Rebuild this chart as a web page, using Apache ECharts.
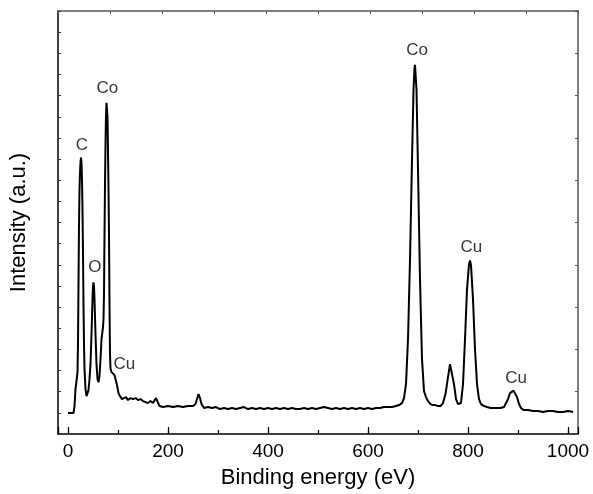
<!DOCTYPE html>
<html>
<head>
<meta charset="utf-8">
<script src="https://cdn.jsdelivr.net/npm/echarts@6/dist/echarts.min.js"></script>
<style>
html,body{margin:0;padding:0;background:#fff;}
#chart{width:593px;height:494px;}
</style>
</head>
<body>
<div id="chart"></div>
<script>
// Binding energy (eV)
const energy = [0,5,11,13,15,17,19,20,21,22,23,24,25,26,27,28,29,30,31,32,33,35,37,39,41,43,45,47,49,50,51,52,53,55,57,59,61,63,65,67,69,70,71,72,73,74,75,76,77,78,79,80,81,82,83,84,85,87,90,93,95,98,101,104,108,112,116,120,125,130,135,140,145,150,155,160,165,170,176,183,190,200,210,220,230,240,250,255,258,261,264,267,272,280,288,296,304,312,320,328,336,344,352,360,368,376,384,392,400,408,416,424,432,440,448,456,464,472,480,488,496,504,512,520,528,536,544,552,560,568,576,584,592,600,608,616,624,632,640,648,656,662,668,672,676,680,684,688,691,693,694,695,697,700,704,708,712,716,720,725,730,735,740,745,750,755,760,764,766,768,772,776,780,783,786,790,794,798,802,804,806,810,814,818,822,826,832,838,845,855,865,872,876,880,884,888,891,894,898,902,906,911,920,930,940,950,960,970,980,990,1000,1010,1018];
// Intensity (a.u.)
const intensity = [21,21,21,28,45,53,62,90,150,210,245,262,272,277,272,255,225,180,130,90,65,45,38,38,44,55,70,100,135,148,152,148,135,100,70,55,52,58,75,95,103,107,115,140,200,250,290,320,332,334,318,285,245,200,130,80,66,62,60,59,57,49,41,38,35,34,37,34,36,35,36,34,35,33,32,31,33,31,36,28,27,28,27,28,27,28,28,30,35,40,36,30,26,27,26,27,25,26,25,26,25,26,27,25,26,25,26,25,26,25,26,25,26,25,26,25,25,26,25,26,25,26,27,26,25,26,25,26,25,26,25,26,25,26,25,26,26,27,27,27,28,29,31,36,50,95,175,275,345,367,370,368,345,265,155,75,43,37,33,30,29,29,28,28,31,40,57,70,72,70,50,35,30,28,31,50,95,145,170,174,169,135,85,50,35,30,28,27,26,26,26,27,29,35,41,43,43.5,42,37,30,26,24,24,23,23,22,23,23,22,22,23,22];

const peakNames = ['C','O','Co','Cu','Co','Cu','Cu'];
const peakLabelX = [27.7,53.6,78.6,112.5,698,806.5,896];
const peakLabelY = [289,167,346.5,69.5,385,187,55.5];

const FONT = 'Liberation Sans, Arial, sans-serif';
const chart = echarts.init(document.getElementById('chart'));
const lineData = energy.map((e,i)=>[e,intensity[i]]);
const labelData = peakNames.map((n,i)=>({name:n, value:[peakLabelX[i],peakLabelY[i]]}));

chart.setOption({
  animation:false,
  backgroundColor:'#fff',
  grid:{left:57,right:15,top:11,bottom:59,containLabel:false},
  xAxis:[
    {type:'value',position:'bottom',min:-20,max:1020,splitNumber:5,
     axisLine:{show:true,onZero:false,lineStyle:{color:'#000',width:1.5}},
     axisTick:{show:true,inside:true,length:7,lineStyle:{color:'#000',width:1.2}},
     axisLabel:{show:true,margin:8,color:'#000',fontSize:19,fontFamily:FONT,
       formatter:v=> (v>=0 && v%200===0) ? String(v) : ''},
     splitLine:{show:false},
     name:'Binding energy (eV)',nameLocation:'middle',nameGap:33,
     nameTextStyle:{color:'#000',fontSize:22,fontFamily:FONT}},
    {type:'value',position:'bottom',min:-20,max:1020,splitNumber:10,
     axisLine:{show:false,onZero:false},
     axisTick:{show:true,inside:true,length:4,lineStyle:{color:'#000',width:1.2}},
     axisLabel:{show:false},splitLine:{show:false}},
    {type:'value',position:'top',min:0,max:10,interval:1,
     axisLine:{show:true,onZero:false,lineStyle:{color:'#555',width:1.5}},
     axisTick:{show:true,inside:true,length:3,lineStyle:{color:'#555',width:1}},
     axisLabel:{show:false},splitLine:{show:false}}
  ],
  yAxis:[
    {type:'value',position:'left',min:0,max:424,interval:21.2,
     axisLine:{show:true,onZero:false,lineStyle:{color:'#000',width:1.5}},
     axisTick:{show:true,inside:true,length:3,lineStyle:{color:'#333',width:1}},
     axisLabel:{show:false},splitLine:{show:false},
     name:'Intensity (a.u.)',nameLocation:'middle',nameGap:28,
     nameTextStyle:{color:'#000',fontSize:22,fontFamily:FONT}},
    {type:'value',position:'right',min:0,max:10,interval:1,
     axisLine:{show:true,onZero:false,lineStyle:{color:'#555',width:1.5}},
     axisTick:{show:true,inside:true,length:3,lineStyle:{color:'#555',width:1}},
     axisLabel:{show:false},splitLine:{show:false}}
  ],
  series:[
    {type:'line',xAxisIndex:0,yAxisIndex:0,data:lineData,showSymbol:false,symbol:'none',
     lineStyle:{color:'#000',width:2},z:3},
    {type:'scatter',xAxisIndex:0,yAxisIndex:0,data:labelData,symbolSize:0,
     label:{show:true,position:'inside',formatter:'{b}',color:'#000',fontSize:17,fontFamily:FONT},z:4}
  ]
});
</script>
</body>
</html>
